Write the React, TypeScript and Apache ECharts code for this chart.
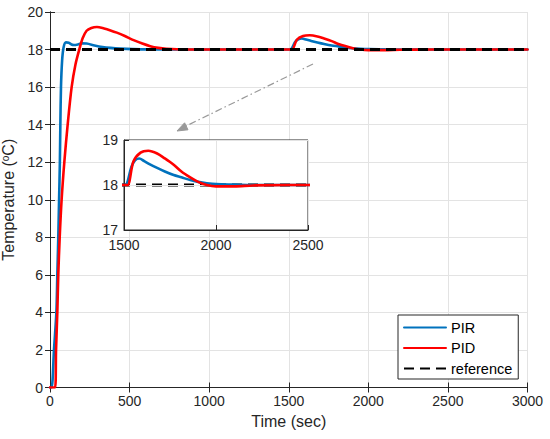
import React, { useEffect, useRef } from "react";
import * as echarts from "echarts";

// PIR controller response (time in s, temperature in °C)
const tPIR = [0, 10, 25, 40, 46, 52, 57, 62, 65, 69, 76, 85, 100, 118, 135, 150, 175, 200, 230, 280, 330, 380, 440, 520, 620, 800, 1000, 1500, 1515, 1540, 1560, 1583, 1610, 1641, 1680, 1722, 1770, 1812, 1860, 1903, 1950, 2000, 2100, 2200, 2500, 3000];
const yPIR = [0, 0, 2, 4, 6, 8, 10, 12, 14, 16, 17.4, 18.1, 18.38, 18.36, 18.27, 18.24, 18.27, 18.33, 18.32, 18.22, 18.14, 18.09, 18.05, 18.02, 18.01, 18, 18, 18, 18.02, 18.4, 18.55, 18.59, 18.53, 18.46, 18.38, 18.3, 18.22, 18.17, 18.11, 18.07, 18.04, 18.02, 18.01, 18, 18, 18];

// PID controller response
const tPID = [0, 32, 38, 46, 52, 61, 73, 90, 111, 136, 160, 184, 205, 230, 260, 295, 340, 380, 420, 470, 525, 580, 630, 680, 730, 850, 1000, 1500, 1520, 1551, 1590, 1632, 1680, 1722, 1770, 1812, 1860, 1903, 1950, 2000, 2100, 2200, 2400, 3000];
const yPID = [0, 0, 2, 4, 6, 8, 10, 12, 14, 16, 17.2, 18, 18.6, 19.0, 19.15, 19.2, 19.12, 19.02, 18.9, 18.72, 18.5, 18.32, 18.18, 18.09, 18.04, 18, 18, 18, 18, 18.52, 18.72, 18.76, 18.7, 18.59, 18.45, 18.3, 18.17, 18.07, 18.0, 17.97, 17.97, 17.99, 18, 18];

// Reference set-point
const tRef = [0, 3000];
const yRef = [18, 18];

const xTicksMain = { min: 0, max: 3000, step: 500 };
const yTicksMain = { min: 0, max: 20, step: 2 };
const xTicksInset = { min: 1500, max: 2500, step: 500 };
const yTicksInset = { min: 17, max: 19, step: 1 };

const FONT = "Liberation Sans, Arial, Helvetica, sans-serif";
const AX = "#262626";
const GRIDC = "#e3e3e3";
const BLUE = "#0072BD";
const RED = "#FF0000";

const pairs = (t: number[], y: number[]) => t.map((v, i) => [v, y[i]]);

export default function App() {
  const ref = useRef<HTMLDivElement>(null);
  useEffect(() => {
    if (!ref.current) return;
    const chart = echarts.init(ref.current, undefined, { renderer: "svg" });
    const label = { color: AX, fontSize: 14, fontFamily: FONT, formatter: (v: number) => String(v) };
    const nameStyle = { color: AX, fontSize: 16, fontFamily: FONT };
    const axisBase = (z: number) => ({
      type: "value" as const,
      z,
      axisLine: { show: true, lineStyle: { color: AX, width: 1 } },
      axisTick: { show: true, inside: true, length: 5, lineStyle: { color: AX } },
      splitLine: { show: true, lineStyle: { color: GRIDC, width: 1 } },
    });
    const pirData = pairs(tPIR, yPIR);
    const pidData = pairs(tPID, yPID);
    const refData = pairs(tRef, yRef);
    const curve = (name: string, data: number[][], color: string, xi: number, z: number) => ({
      name,
      type: "line",
      xAxisIndex: xi,
      yAxisIndex: xi,
      data,
      z,
      showSymbol: false,
      symbol: "none",
      smooth: 0.3,
      clip: true,
      lineStyle: { color, width: 2.6, join: "round", cap: "round" },
      itemStyle: { color },
    });
    const refLine = (xi: number, z: number) => ({
      name: "reference",
      type: "line",
      xAxisIndex: xi,
      yAxisIndex: xi,
      data: refData,
      z,
      showSymbol: false,
      symbol: "none",
      clip: true,
      lineStyle: { color: "#000", width: 3, type: [10, 6] },
      itemStyle: { color: "#000" },
    });

    chart.setOption({
      animation: false,
      backgroundColor: "#fff",
      textStyle: { fontFamily: FONT },
      grid: [
        { left: 50, right: 22.5, top: 12, bottom: 51.5, containLabel: false, outerBoundsMode: "none" },
        {
          left: 124, width: 184, top: 140, height: 90, z: 10, show: true, outerBoundsMode: "none",
          backgroundColor: "#fff", borderColor: AX, borderWidth: 1,
        },
      ],
      xAxis: [
        {
          ...axisBase(0), gridIndex: 0, min: xTicksMain.min, max: xTicksMain.max, interval: xTicksMain.step,
          axisLabel: { ...label, margin: 6 },
          name: "Time (sec)", nameLocation: "middle", nameGap: 26,
          nameTextStyle: nameStyle,
        },
        {
          ...axisBase(0), gridIndex: 0, position: "top", min: xTicksMain.min, max: xTicksMain.max, interval: xTicksMain.step,
          axisLabel: { show: false }, splitLine: { show: false },
        },
        {
          ...axisBase(12), gridIndex: 1, min: xTicksInset.min, max: xTicksInset.max, interval: xTicksInset.step,
          axisLabel: { ...label, margin: 8 },
        },
      ],
      yAxis: [
        {
          ...axisBase(0), gridIndex: 0, min: yTicksMain.min, max: yTicksMain.max, interval: yTicksMain.step,
          axisLabel: { ...label, margin: 7 },
          name: "Temperature ({s|o}C)", nameLocation: "middle", nameGap: 26,
          nameTextStyle: {
            ...nameStyle,
            rich: { s: { fontSize: 10, fontFamily: FONT, color: AX, verticalAlign: "top", lineHeight: 16 } },
          },
        },
        {
          ...axisBase(0), gridIndex: 0, position: "right", min: yTicksMain.min, max: yTicksMain.max, interval: yTicksMain.step,
          axisLabel: { show: false }, splitLine: { show: false },
        },
        {
          ...axisBase(12), gridIndex: 1, min: yTicksInset.min, max: yTicksInset.max, interval: yTicksInset.step,
          axisLabel: { ...label, margin: 6 },
        },
      ],
      legend: {
        left: 398, top: 315, orient: "vertical",
        backgroundColor: "#fff", borderColor: AX, borderWidth: 1,
        padding: [5, 6, 3, 5], itemWidth: 42, itemHeight: 14, itemGap: 5.5,
        textStyle: { fontSize: 14.5, fontFamily: FONT, color: "#000" },
        itemStyle: { opacity: 0 },
        data: ["PIR", "PID", "reference"],
        selectedMode: false,
      },
      series: [
        curve("PIR", pirData, BLUE, 0, 2),
        curve("PID", pidData, RED, 0, 2),
        refLine(0, 3),
        refLine(2, 11),
        curve("PIR", pirData, BLUE, 2, 12),
        curve("PID", pidData, RED, 2, 12),
      ],
      graphic: [
        {
          type: "line", z: 20,
          shape: { x1: 313, y1: 64, x2: 184, y2: 127 },
          style: { stroke: "#999", lineWidth: 1.2, lineDash: [7, 3, 1.5, 3] },
        },
        {
          type: "polygon", z: 20,
          shape: { points: [[177, 131], [188, 129.8], [184.6, 122.8]] },
          style: { fill: "#999", stroke: "#999" },
        },
      ],
    });
    return () => chart.dispose();
  }, []);
  return <div ref={ref} style={{ position: "fixed", left: 0, top: 0, width: 550, height: 439 }} />;
}
